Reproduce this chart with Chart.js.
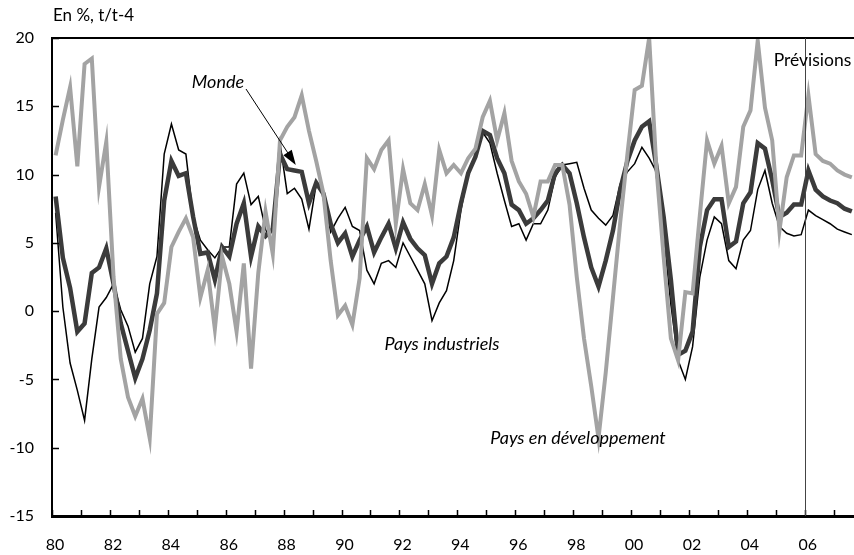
<!DOCTYPE html>
<html>
<head>
<meta charset="utf-8">
<script src="https://cdn.jsdelivr.net/npm/chart.js@4/dist/chart.umd.min.js"></script>
<style>html,body{margin:0;padding:0;background:#fff}canvas{display:block}</style>
</head>
<body>
<canvas id="c" width="854" height="555"></canvas>
<script>
// ---- data (quarterly, 1980T1 .. 2007T3), en %, t/t-4 ----
const firstYear = 1980;
const yearTicks = [1980,1981,1982,1983,1984,1985,1986,1987,1988,1989,1990,1991,1992,1993,1994,1995,1996,1997,1998,1999,2000,2001,2002,2003,2004,2005,2006,2007];
const yTickValues = [-15,-10,-5,0,5,10,15,20];
const forecastStart = 2006;

const paysDev = [11.4,14.0,16.4,10.6,18.1,18.5,9.1,12.4,2.5,-3.5,
-6.3,-7.7,-6.4,-9.3,-0.2,0.6,4.7,5.8,6.8,5.4,
1.0,3.0,-1.3,4.0,2.0,-1.5,3.5,-4.2,2.8,7.3,
4.2,12.5,13.5,14.2,15.8,13.2,11.0,8.6,3.7,-0.3,
0.4,-1.0,2.4,11.2,10.4,11.8,12.5,6.4,10.4,7.9,
7.4,9.3,7.0,11.8,10.1,10.7,10.1,11.2,11.9,14.2,
15.4,12.5,14.5,11.0,9.5,8.6,6.9,9.5,9.5,10.7,
10.7,7.8,2.5,-2.0,-5.5,-9.3,-4.5,1.0,6.5,11.5,
16.2,16.5,20.0,10.5,4.0,-2.0,-3.6,1.4,1.3,7.0,
12.5,10.8,12.1,7.9,9.1,13.5,14.7,19.8,14.9,12.5,
5.9,9.8,11.4,11.4,15.8,11.5,11.0,10.8,10.3,10.0,
9.8];

const monde = [8.4,3.9,1.7,-1.5,-0.9,2.8,3.2,4.6,2.0,-0.9,
-2.9,-4.9,-3.5,-1.4,1.3,8.1,11.0,9.9,10.1,6.9,
4.2,4.3,2.3,4.7,4.0,6.4,7.9,4.0,6.2,5.5,
6.0,11.5,10.4,10.3,10.2,7.9,9.4,8.6,6.4,5.0,
5.7,4.0,5.2,6.2,4.3,5.4,6.4,4.6,6.5,5.3,
4.6,4.1,2.0,3.5,4.0,5.4,7.9,10.1,11.3,13.2,
12.9,11.2,10.1,7.8,7.4,6.4,6.8,7.4,8.1,10.1,
10.7,10.1,7.9,5.4,3.2,1.8,3.7,5.9,8.9,11.0,
12.5,13.5,13.9,10.6,6.9,2.3,-3.2,-2.9,-1.5,4.7,
7.4,8.2,8.2,4.7,5.1,7.9,8.7,12.3,11.9,9.6,
6.9,7.2,7.8,7.8,10.3,8.9,8.4,8.1,7.9,7.5,
7.3];

const paysInd = [7.2,0.3,-3.8,-5.8,-8.0,-3.5,0.3,1.0,2.0,0.1,
-1.1,-3.0,-2.0,2.0,4.0,11.5,13.7,11.8,11.5,6.9,
5.2,4.5,3.9,4.7,4.7,9.3,10.1,7.8,8.4,6.0,
4.8,12.3,8.6,9.0,8.2,6.0,9.3,8.5,5.8,6.8,
7.6,6.2,5.9,3.0,2.0,3.5,3.7,3.2,5.0,4.0,
3.0,2.0,-0.7,0.6,1.5,3.7,7.4,10.1,11.2,13.1,
12.3,10.1,8.1,6.2,6.4,5.2,6.4,6.4,7.4,9.8,
10.7,10.8,10.9,9.0,7.4,6.8,6.3,7.0,9.3,10.2,
10.8,12.0,11.2,10.2,5.5,0.5,-3.6,-5.0,-2.6,2.5,
5.2,6.9,6.4,3.7,3.1,5.2,5.9,8.9,10.3,7.9,
6.2,5.7,5.5,5.6,7.4,7.0,6.7,6.4,6.0,5.8,
5.6];

// quarter midpoints on the time axis
const quarterX = paysDev.map((_, i) => firstYear + (i + 0.5) / 4);
const toPoints = arr => arr.map((v, i) => ({x: quarterX[i], y: v}));

const FONT = 'Lato, "Open Sans", sans-serif';
Chart.defaults.font.family = FONT;
Chart.defaults.font.size = 16;
Chart.defaults.color = '#000';

const decor = {
  id: 'decor',
  afterDatasetsDraw(chart) {
    const {ctx, chartArea: a, scales: {x, y}} = chart;
    ctx.save();
    ctx.strokeStyle = '#000';
    // top frame line
    ctx.lineWidth = 2;
    ctx.beginPath(); ctx.moveTo(a.left, a.top); ctx.lineTo(a.right, a.top); ctx.stroke();
    // inward ticks
    ctx.lineWidth = 1.5;
    ctx.beginPath();
    yTickValues.forEach(v => { const py = Math.round(y.getPixelForValue(v)) + 0.5; ctx.moveTo(a.left, py); ctx.lineTo(a.left + 7, py); });
    yearTicks.forEach(v => { const px = Math.round(x.getPixelForValue(v)) + 0.5; ctx.moveTo(px, a.bottom); ctx.lineTo(px, a.bottom - 6); });
    ctx.stroke();
    // forecast separator
    const fx = Math.round(x.getPixelForValue(forecastStart)) + 0.5;
    ctx.strokeStyle = '#444'; ctx.lineWidth = 1;
    ctx.beginPath(); ctx.moveTo(fx, a.top); ctx.lineTo(fx, a.bottom); ctx.stroke();
    // texts
    ctx.fillStyle = '#000';
    ctx.textBaseline = 'middle';
    ctx.font = '17.5px ' + FONT;
    ctx.textAlign = 'center';
    ctx.fillText('Prévisions', fx + 7, a.top + 22);
    ctx.textAlign = 'left';
    ctx.font = '17px ' + FONT;
    ctx.fillText('En %, t/t-4', a.left + 1, 16);
    ctx.font = 'italic 18px ' + FONT;
    ctx.textAlign = 'center';
    ctx.fillText('Monde', 218, 82);
    ctx.fillText('Pays industriels', 442, 344);
    ctx.fillText('Pays en développement', 578, 438);
    // arrow to Monde line
    const tipX = x.getPixelForValue(1988.42), tipY = y.getPixelForValue(10.7);
    const sx = 246, sy = 89;
    const ang = Math.atan2(tipY - sy, tipX - sx);
    ctx.strokeStyle = '#000'; ctx.lineWidth = 1;
    ctx.beginPath(); ctx.moveTo(sx, sy); ctx.lineTo(tipX - 10 * Math.cos(ang), tipY - 10 * Math.sin(ang)); ctx.stroke();
    ctx.beginPath();
    ctx.moveTo(tipX, tipY);
    ctx.lineTo(tipX - 15 * Math.cos(ang) + 5 * Math.sin(ang), tipY - 15 * Math.sin(ang) - 5 * Math.cos(ang));
    ctx.lineTo(tipX - 15 * Math.cos(ang) - 5 * Math.sin(ang), tipY - 15 * Math.sin(ang) + 5 * Math.cos(ang));
    ctx.closePath(); ctx.fill();
    ctx.restore();
  }
};

new Chart(document.getElementById('c'), {
  type: 'line',
  data: {
    datasets: [
      {label: 'Pays en développement', data: toPoints(paysDev), borderColor: '#a3a3a3', borderWidth: 4, pointRadius: 0, tension: 0},
      {label: 'Monde', data: toPoints(monde), borderColor: '#3b3b3b', borderWidth: 4.5, pointRadius: 0, tension: 0},
      {label: 'Pays industriels', data: toPoints(paysInd), borderColor: '#000', borderWidth: 1.5, pointRadius: 0, tension: 0}
    ]
  },
  options: {
    responsive: false,
    animation: false,
    devicePixelRatio: 1,
    layout: {padding: {top: 38, right: 0, left: 0, bottom: 0}},
    plugins: {legend: {display: false}, tooltip: {enabled: false}},
    scales: {
      x: {
        type: 'linear', min: 1980, max: 2007.7,
        afterBuildTicks: s => { s.ticks = yearTicks.map(v => ({value: v})); },
        afterFit: s => { s.height = 39; },
        ticks: {autoSkip: false, maxRotation: 0, padding: 19, labelOffset: 3,
          callback: v => (v % 2 === 0 ? String(v).slice(2) : '')},
        grid: {display: false, drawTicks: false},
        border: {display: true, color: '#000', width: 3}
      },
      y: {
        min: -15, max: 20,
        afterBuildTicks: s => { s.ticks = yTickValues.map(v => ({value: v})); },
        afterFit: s => { s.width = 52; },
        ticks: {padding: 18},
        grid: {display: false, drawTicks: false},
        border: {display: true, color: '#000', width: 2}
      }
    }
  },
  plugins: [decor]
});
</script>
</body>
</html>
